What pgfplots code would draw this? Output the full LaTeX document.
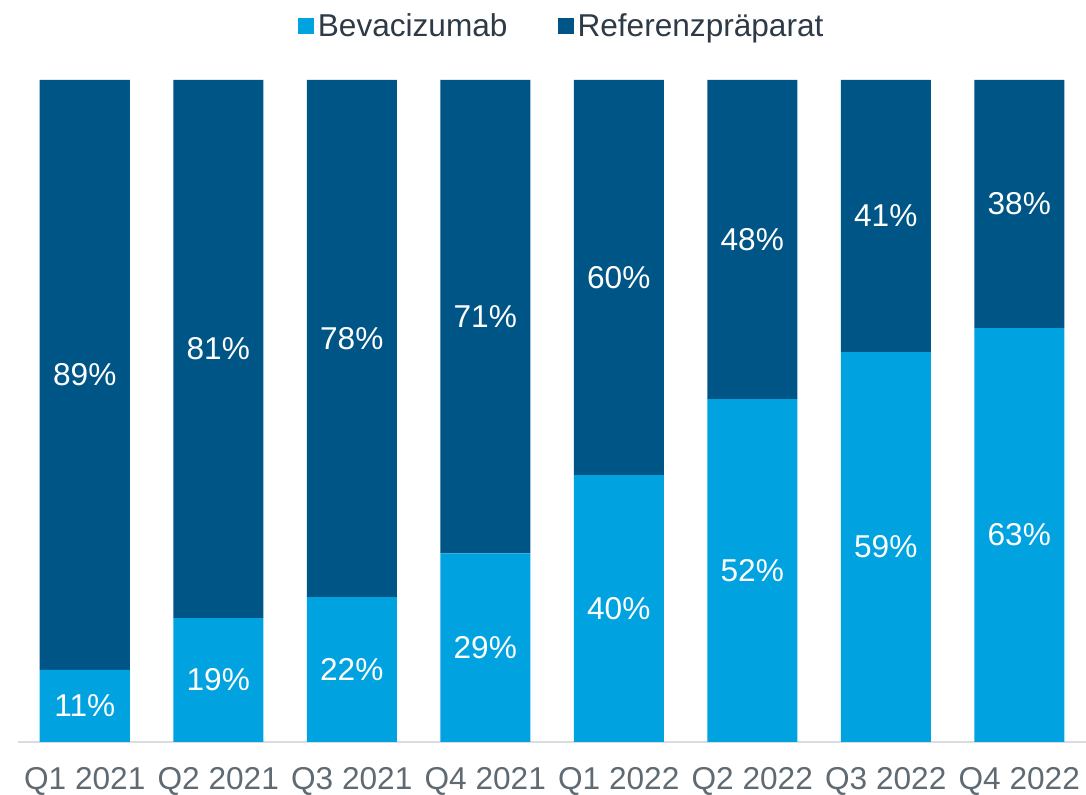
\documentclass[border=0pt]{standalone}
\usepackage{pgfplots}
\usepackage{pgfplotstable}
\pgfplotsset{compat=1.18}
\usepackage{fontspec}
\setmainfont{Liberation Sans}

\definecolor{bev}{HTML}{00A3E0}
\definecolor{refc}{HTML}{005587}
\definecolor{axline}{HTML}{D9DDE0}
\definecolor{ticktxt}{HTML}{5F6A72}
\definecolor{legtxt}{HTML}{2E3A46}

\newcommand{\chartfont}{\fontsize{15.8}{18}\selectfont}

% share per quarter, in percent (label = printed value)
\pgfplotstableread{
x bev bevlab ref reflab
0 10.9 11 89.1 89
1 18.7 19 81.3 81
2 21.9 22 78.1 78
3 28.5 29 71.5 71
4 40.3 40 59.7 60
5 51.8 52 48.2 48
6 58.9 59 41.1 41
7 62.5 63 37.5 38
}\shares

\begin{document}
\begin{tikzpicture}
\useasboundingbox (-9pt,-26.5pt) rectangle (534pt,371pt);
\begin{axis}[
  x=66.75pt, y=3.31pt,
  xmin=-0.5, xmax=7.5,
  ymin=0, ymax=100,
  ybar stacked,
  bar width=45pt,
  axis x line=bottom,
  axis y line=none,
  x axis line style={-, draw=axline, line width=0.8pt},
  xtick={0,...,7},
  xticklabels={Q1 2021,Q2 2021,Q3 2021,Q4 2021,Q1 2022,Q2 2022,Q3 2022,Q4 2022},
  xtick style={draw=none},
  xticklabel style={font=\chartfont, text=ticktxt, anchor=base, yshift=-21.5pt},
  ytick=\empty,
  legend columns=2,
  legend style={at={(0.510,1.080)}, anchor=center, draw=none, fill=none,
    font=\chartfont\color{legtxt},
    /tikz/every even column/.append style={column sep=23pt}},
  legend image code/.code={\fill[#1] (0pt,-3.5pt) rectangle (8pt,4.5pt);},
  nodes near coords={\pgfplotspointmeta\%},
  point meta=explicit symbolic,
  every node near coord/.append style={anchor=center, text=white, font=\chartfont},
]
\addplot[fill=bev, draw=none] table[x=x, y=bev, meta=bevlab] {\shares};
\addplot[fill=refc, draw=none] table[x=x, y=ref, meta=reflab] {\shares};
\legend{Bevacizumab, Referenzpräparat}
\end{axis}
\end{tikzpicture}
\end{document}
